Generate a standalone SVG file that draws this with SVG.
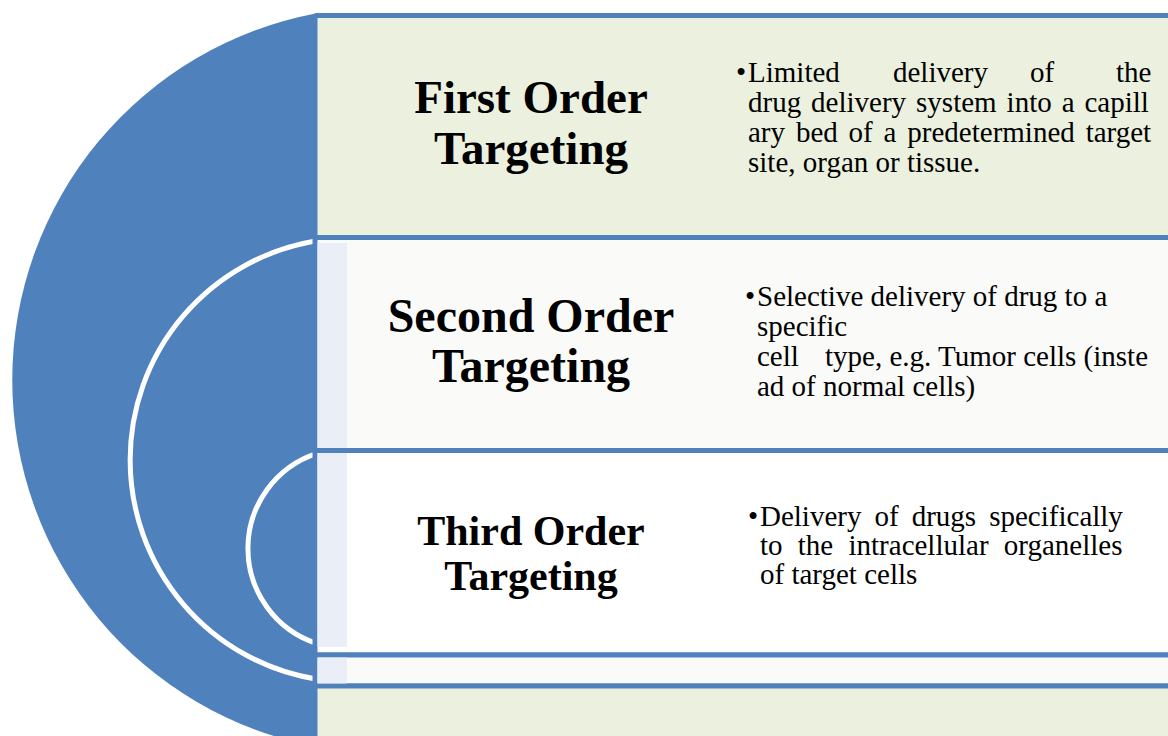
<svg xmlns="http://www.w3.org/2000/svg" width="1168" height="736" viewBox="0 0 1168 736">
  <style>
    .band { stroke: #4F81BD; stroke-width: 5; }
    .green { fill: #EBF1DE; }
    .offwhite { fill: #FAFAF8; }
    .white { fill: #FFFFFF; }
    .arc { fill: none; stroke: #FFFFFF; stroke-width: 5; }
    .title { font-family: "Liberation Serif", "Times New Roman", serif; font-weight: bold; fill: #000000; text-anchor: middle; }
    .body { font-family: "Liberation Serif", "Times New Roman", serif; font-size: 29px; fill: #000000; }
  </style>
  <rect x="0" y="0" width="1168" height="736" fill="#FFFFFF"/>

  <!-- big blue half circle -->
  <g id="semicircle">
    <path d="M317,13.3 A373,373 0 0 0 317,746.7 Z" fill="#4F81BD"/>
  </g>

  <!-- white arcs -->
  <g id="arcs">
    <path class="arc" d="M317,240.8 A222,222 0 0 0 317,679.2"/>
    <path class="arc" d="M317,453.4 A100,100 0 0 0 317,643.6"/>
  </g>

  <!-- bands -->
  <g id="bands">
    <rect class="band green" x="315" y="15.5" width="880" height="222" rx="2"/>
    <rect class="band offwhite" x="315" y="237.5" width="880" height="213"/>
    <rect class="band white" x="315" y="450.5" width="880" height="204.5"/>
    <rect class="band offwhite" x="315" y="655" width="880" height="31"/>
    <rect class="band green" x="315" y="686" width="880" height="70"/>
    <rect x="317.5" y="243" width="29.5" height="205" fill="#E9EEF7"/>
    <rect x="317.5" y="453" width="29.5" height="194" fill="#E9EEF7"/>
    <rect x="317.5" y="657.5" width="29.5" height="26" fill="#E9EEF7"/>
  </g>

  <g id="connectors"></g>

  <!-- First order -->
  <g id="node-first">
    <text class="title" font-size="47" x="531" y="113">First Order</text>
    <text class="title" font-size="47" x="531" y="164">Targeting</text>
    <text class="body" x="736" y="82">•</text>
    <text class="body" y="82"><tspan x="748">Limited</tspan><tspan x="893">delivery</tspan><tspan x="1030">of</tspan><tspan x="1116">the</tspan></text>
    <text class="body" x="748" y="112" word-spacing="2.7">drug delivery system into a capill</text>
    <text class="body" x="748" y="142" word-spacing="3.6">ary bed of a predetermined target</text>
    <text class="body" x="748" y="172">site, organ or tissue.</text>
  </g>

  <!-- Second order -->
  <g id="node-second">
    <text class="title" font-size="48" x="531" y="332">Second Order</text>
    <text class="title" font-size="48" x="531" y="382">Targeting</text>
    <text class="body" x="745" y="306">•</text>
    <text class="body" x="757" y="306">Selective delivery of drug to a</text>
    <text class="body" x="757" y="336">specific</text>
    <text class="body" y="366"><tspan x="757">cell</tspan><tspan x="825">type, e.g. Tumor cells (inste</tspan></text>
    <text class="body" x="757" y="396">ad of normal cells)</text>
  </g>

  <!-- Third order -->
  <g id="node-third">
    <text class="title" font-size="42" x="531" y="545">Third Order</text>
    <text class="title" font-size="42" x="531" y="590">Targeting</text>
    <text class="body" x="748" y="526">•</text>
    <text class="body" x="760" y="526" word-spacing="5.8">Delivery of drugs specifically</text>
    <text class="body" x="760" y="555" word-spacing="8">to the intracellular organelles</text>
    <text class="body" x="760" y="584">of target cells</text>
  </g>
</svg>
